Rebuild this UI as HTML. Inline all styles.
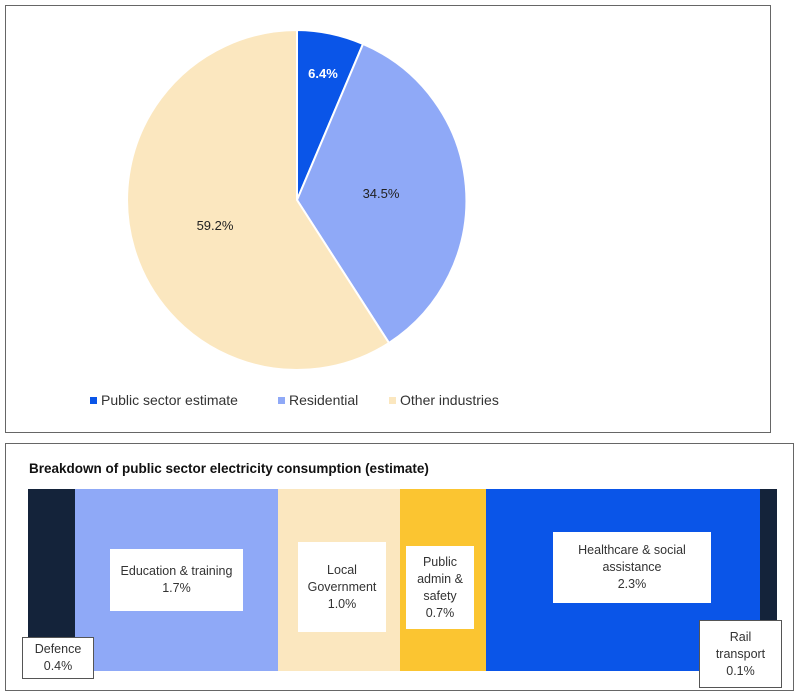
<!DOCTYPE html>
<html><head><style>
body{margin:0;width:799px;height:695px;background:#fff;font-family:"Liberation Sans",sans-serif;position:relative;overflow:hidden}
.a{position:absolute}
.lb{position:absolute;background:#fff;color:#333;font-size:12.5px;text-align:center;line-height:17px;display:flex;align-items:center;justify-content:center;box-sizing:border-box}
</style></head><body>
<div class="a" style="left:5px;top:5px;width:764px;height:426px;border:1px solid #666"></div>
<svg class="a" style="left:0;top:0" width="799" height="440">
<path d="M297,200 L297,30 A170,170 0 0 1 363,44 Z" fill="#0a55e8" stroke="#fff" stroke-width="2"/>
<path d="M297,200 L363,44 A170,170 0 0 1 389,343 Z" fill="#8fa9f7" stroke="#fff" stroke-width="2"/>
<path d="M297,200 L389,343 A170,170 0 1 1 297,30 Z" fill="#fbe7bf" stroke="#fff" stroke-width="2"/>
<text x="323" y="78" font-size="13" font-weight="bold" fill="#fff" text-anchor="middle" font-family="Liberation Sans">6.4%</text>
<text x="381" y="198" font-size="13" fill="#222" text-anchor="middle" font-family="Liberation Sans">34.5%</text>
<text x="215" y="230" font-size="13" fill="#222" text-anchor="middle" font-family="Liberation Sans">59.2%</text>
<rect x="90" y="397" width="7" height="7" fill="#0a55e8"/>
<text x="101" y="405" font-size="14" fill="#333" font-family="Liberation Sans">Public sector estimate</text>
<rect x="278" y="397" width="7" height="7" fill="#8fa9f7"/>
<text x="289" y="405" font-size="14" fill="#333" font-family="Liberation Sans">Residential</text>
<rect x="389" y="397" width="7" height="7" fill="#fbe7bf"/>
<text x="400" y="405" font-size="14" fill="#333" font-family="Liberation Sans">Other industries</text>
</svg>
<div class="a" style="left:5px;top:443px;width:787px;height:246px;border:1px solid #666"></div>
<div class="a" style="left:29px;top:461px;font-size:13.5px;font-weight:bold;color:#111">Breakdown of public sector electricity consumption (estimate)</div>
<div class="a" style="left:28px;top:489px;width:47px;height:182px;background:#14233a"></div>
<div class="a" style="left:75px;top:489px;width:203px;height:182px;background:#8fa9f7"></div>
<div class="a" style="left:278px;top:489px;width:122px;height:182px;background:#fbe7bf"></div>
<div class="a" style="left:400px;top:489px;width:86px;height:182px;background:#fbc531"></div>
<div class="a" style="left:486px;top:489px;width:274px;height:182px;background:#0a55e8"></div>
<div class="a" style="left:760px;top:489px;width:17px;height:182px;background:#14233a"></div>
<div class="lb" style="left:22px;top:637px;width:72px;height:42px;border:1px solid #555">Defence<br>0.4%</div>
<div class="lb" style="left:110px;top:549px;width:133px;height:62px">Education &amp; training<br>1.7%</div>
<div class="lb" style="left:298px;top:542px;width:88px;height:90px">Local<br>Government<br>1.0%</div>
<div class="lb" style="left:406px;top:546px;width:68px;height:83px">Public<br>admin &amp;<br>safety<br>0.7%</div>
<div class="lb" style="left:553px;top:532px;width:158px;height:71px">Healthcare &amp; social<br>assistance<br>2.3%</div>
<div class="lb" style="left:699px;top:620px;width:83px;height:68px;border:1px solid #555">Rail<br>transport<br>0.1%</div>
</body></html>
